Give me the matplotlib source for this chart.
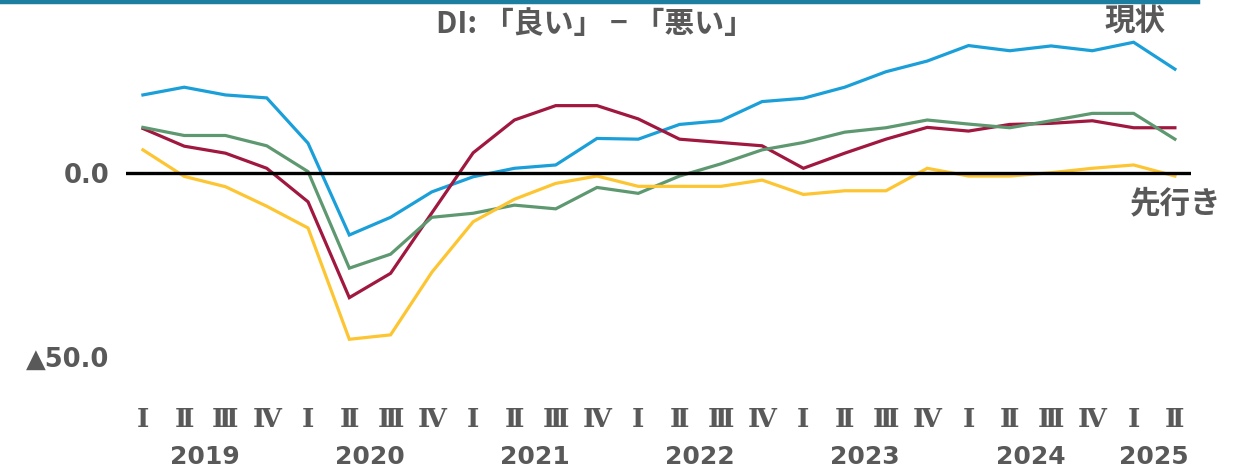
import matplotlib
matplotlib.use("Agg")
import matplotlib.pyplot as plt
import matplotlib.ticker as ticker
from matplotlib.lines import Line2D
import numpy as np

quarters = ["Ⅰ", "Ⅱ", "Ⅲ", "Ⅳ"] * 6 + ["Ⅰ", "Ⅱ"]
years = ["2019", "2020", "2021", "2022", "2023", "2024", "2025"]
year_pos = [1.5, 5.5, 9.5, 13.5, 17.5, 21.5, 24.5]

# DI values, 2019 Q1 .. 2025 Q2
blue = [21.1, 23.2, 21.1, 20.3, 8.0, -16.9, -12.1, -5.2, -1.1, 1.2, 2.1, 9.3, 9.1,
        13.1, 14.1, 19.3, 20.2, 23.2, 27.4, 30.3, 34.5, 33.1, 34.4, 33.1, 35.4, 28.1]
red = [12.0, 7.2, 5.3, 1.2, -7.9, -33.9, -27.3, -10.9, 5.4, 14.3, 18.2, 18.2, 14.6,
       9.1, 8.2, 7.3, 1.2, 5.3, 9.1, 12.3, 11.3, 13.1, 13.4, 14.1, 12.2, 12.2]
green = [12.3, 10.1, 10.1, 7.3, 0.3, -25.9, -22.1, -12.1, -11.0, -8.8, -9.8, -4.0, -5.6,
         -0.9, 2.4, 6.2, 8.2, 11.0, 12.2, 14.3, 13.2, 12.2, 14.1, 16.1, 16.1, 9.1]
yellow = [6.2, -1.0, -3.8, -9.1, -15.0, -45.2, -44.0, -27.0, -13.3, -7.2, -2.9, -0.9, -3.7,
          -3.7, -3.7, -2.0, -5.9, -4.9, -4.9, 1.2, -0.9, -0.9, 0.0, 1.2, 2.1, -0.9]

series = [(blue, "#1a9fd9"), (red, "#a0173f"), (green, "#5e9870"), (yellow, "#fcc531")]
grey = "#595959"
W, H = 1242, 472

fig = plt.figure(figsize=(W / 100, H / 100), dpi=100)
ax = fig.add_axes([126 / W, 1 - 401.2 / H, (1191 - 126) / W, (401.2 - 25.3) / H])

x = np.arange(len(blue))
for vals, col in series:
    ax.plot(x, vals, color=col, lw=2.3, solid_joinstyle="miter")
ax.axhline(0, color="black", lw=2.4, zorder=5)

ax.set_xlim(-0.41, 25.39)
ax.set_ylim(-62, 40)
for s in ax.spines.values():
    s.set_visible(False)

ax.set_yticks([0, -50])
ax.yaxis.set_major_formatter(ticker.FuncFormatter(
    lambda v, p: "0.0" if v == 0 else "▲%.1f" % abs(v)))
ax.tick_params(axis="y", length=0, pad=12, labelsize=18.5, labelcolor=grey)
for lab in ax.get_yticklabels():
    lab.set_fontweight("bold")
    lab.set_family(["DejaVu Sans", "Noto Sans CJK JP"])

ax.set_xticks(x)
ax.set_xticklabels(quarters, family=["DejaVu Serif", "Noto Sans CJK JP"],
                   fontweight="bold", fontsize=19, color=grey)
ax.tick_params(axis="x", length=0, pad=4)

for yr, pos in zip(years, year_pos):
    ax.annotate(yr, xy=(pos, 0), xycoords=("data", "axes fraction"),
                xytext=(0, -40), textcoords="offset points", ha="center", va="center",
                fontsize=18, fontweight="bold", color=grey, family="DejaVu Sans")

cjk = ["Noto Sans CJK JP", "DejaVu Sans"]
fig.text(595.5 / W, 1 - 24 / H, "DI: 「良い」 − 「悪い」", ha="center", va="center",
         fontsize=21.5, fontweight="bold", color=grey, family=cjk)
fig.text(1135 / W, 1 - 21.5 / H, "現状", ha="center", va="center",
         fontsize=22, fontweight="bold", color=grey, family=cjk)
fig.text(1176 / W, 1 - 203.5 / H, "先行き", ha="center", va="center",
         fontsize=22, fontweight="bold", color=grey, family=cjk)

# teal rule at the top
fig.add_artist(Line2D([0, 1198 / W], [1 - 2 / H, 1 - 2 / H], color="#1c7ea0", lw=3.2,
                      transform=fig.transFigure))

fig.savefig("out.png", dpi=100)
